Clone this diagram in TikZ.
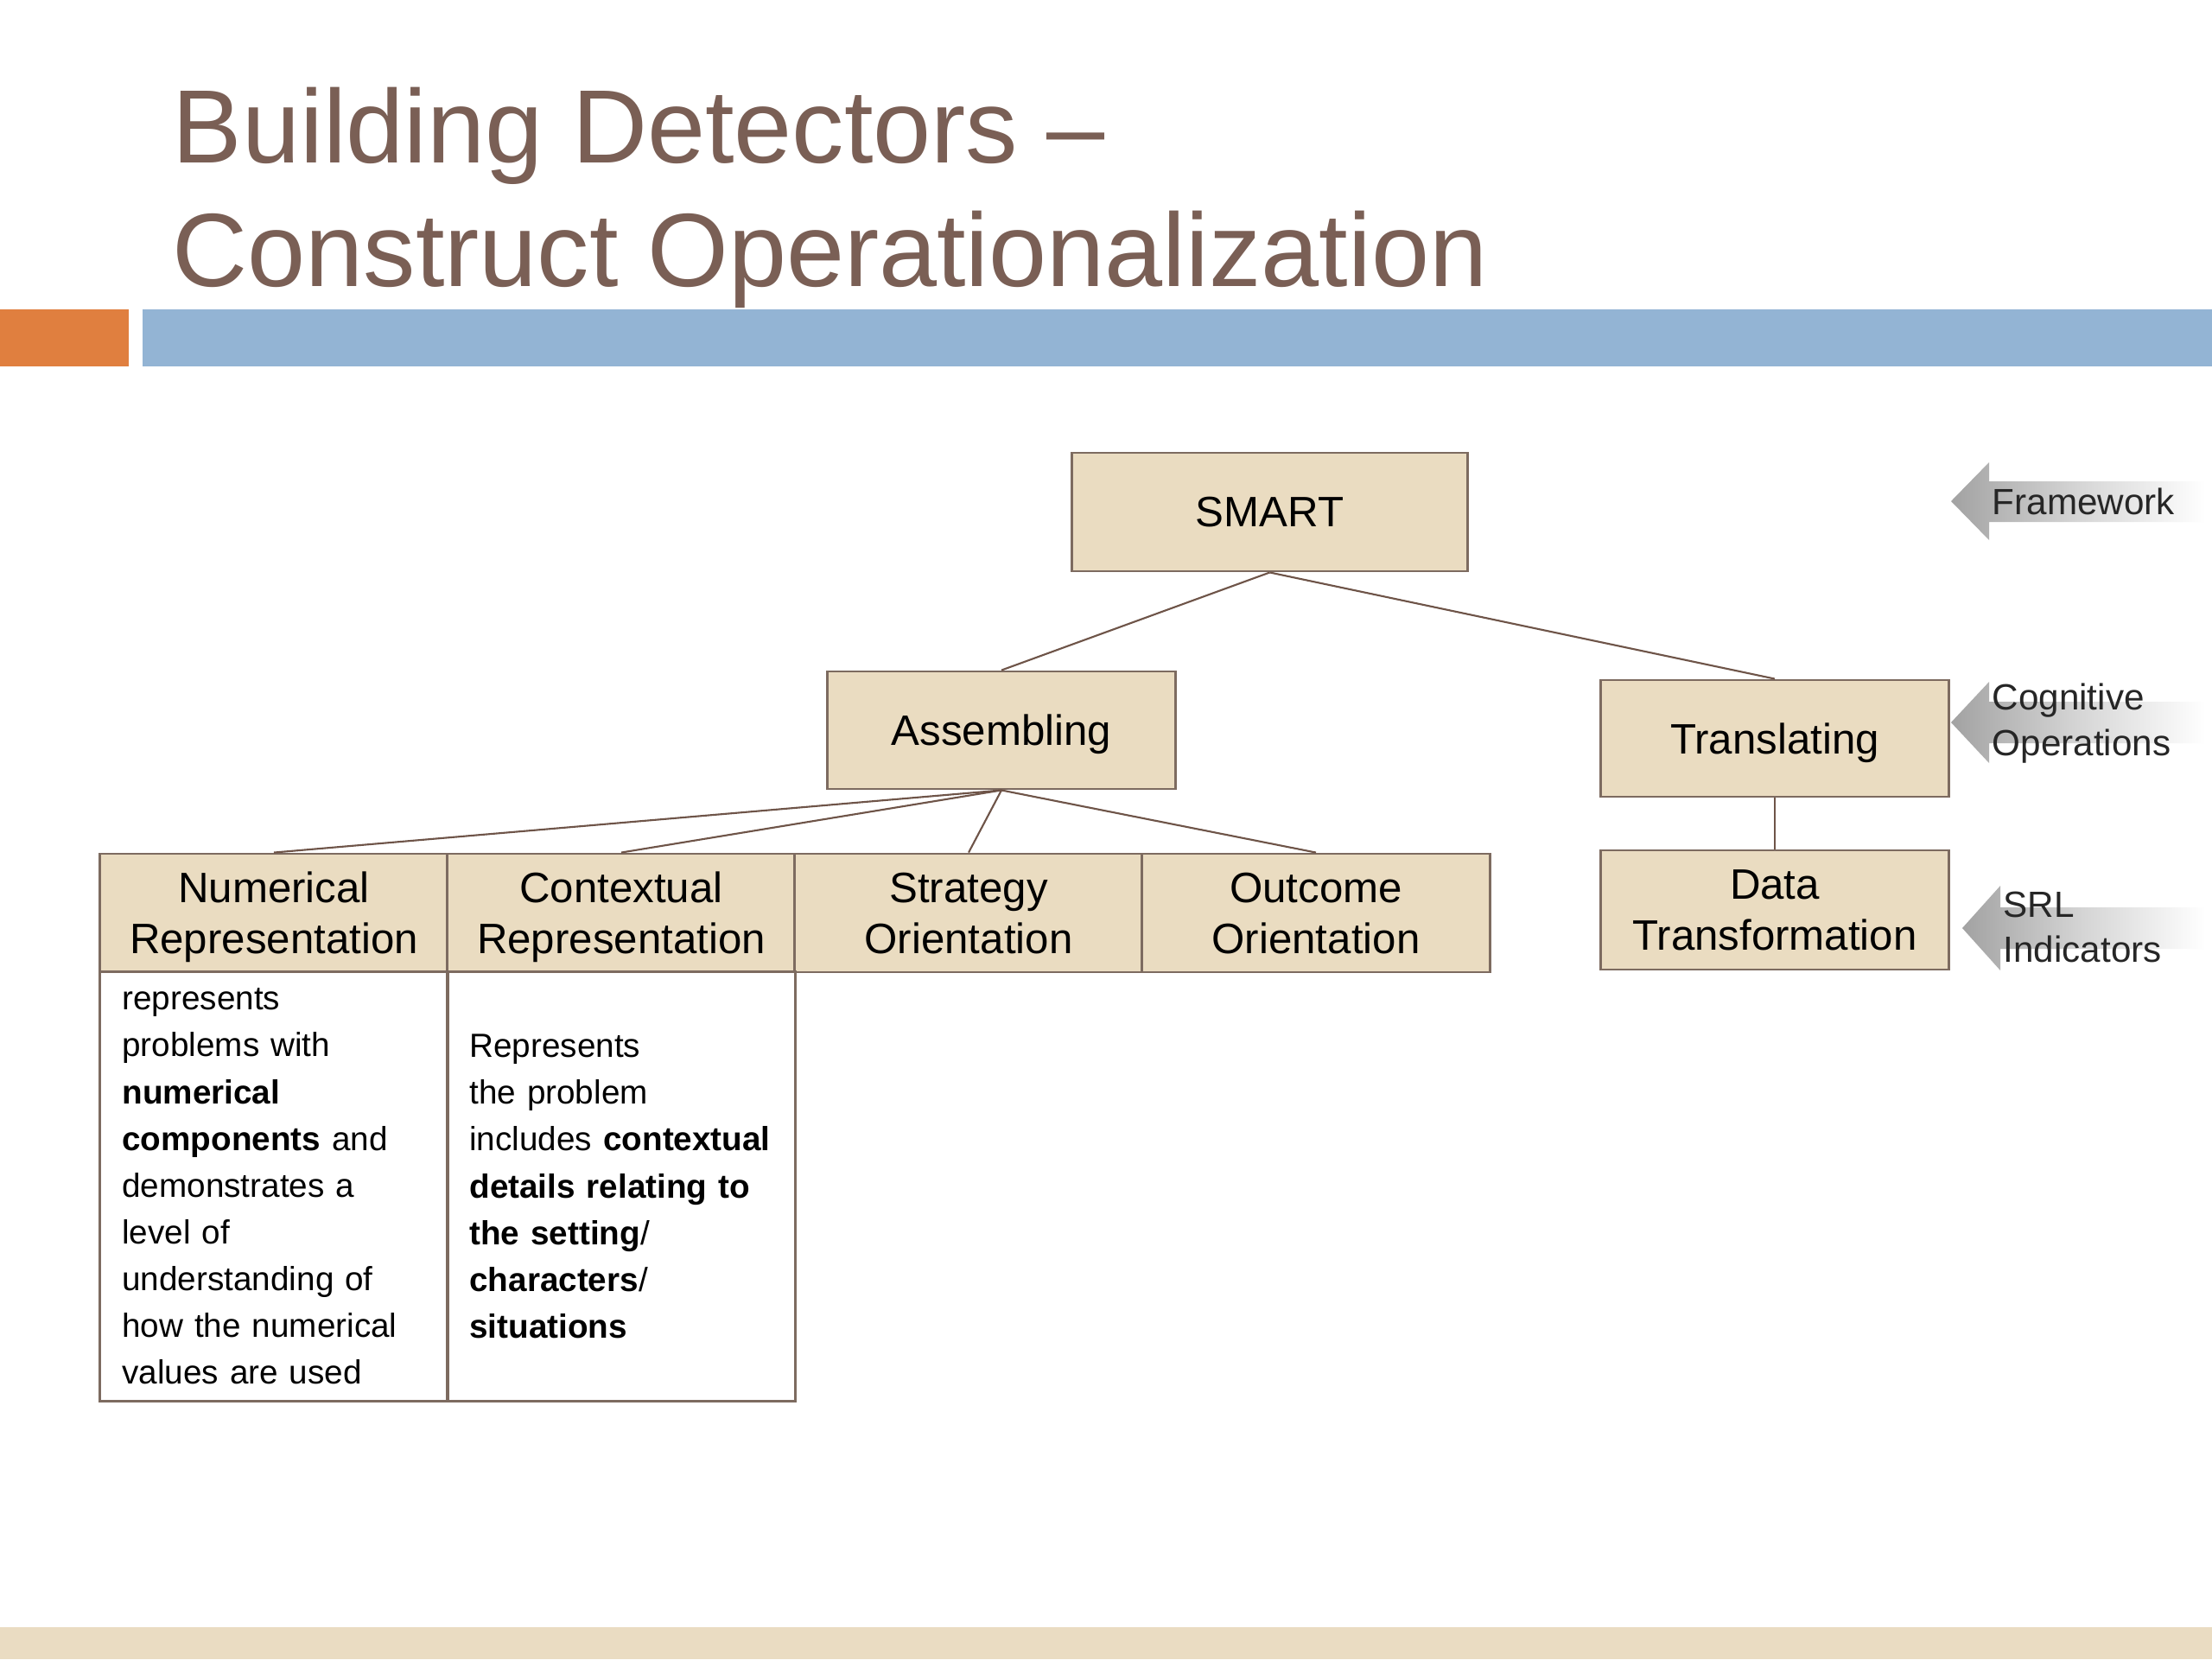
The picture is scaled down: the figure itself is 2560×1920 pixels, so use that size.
\documentclass[tikz,border=0pt]{standalone}
\usepackage{fontspec}
\setmainfont{Liberation Sans}
\definecolor{titlecol}{HTML}{7A5F55}
\definecolor{orangebar}{HTML}{E07F3F}
\definecolor{bluebar}{HTML}{93B4D4}
\definecolor{beige}{HTML}{EADCC2}
\definecolor{boxfill}{HTML}{EADCC1}
\definecolor{boxline}{HTML}{7D6B60}
\definecolor{linkcol}{HTML}{6E5448}
\definecolor{arrowgray}{HTML}{A2A2A2}
\begin{document}
\begin{tikzpicture}[x=0.01cm,y=-0.01cm,
  box/.style={draw=boxline, fill=boxfill, line width=0.8pt, minimum width=4.02cm,
    minimum height=1.37cm, inner sep=0pt, align=center, text depth=0pt,
    font=\fontsize{14pt}{16.8pt}\selectfont},
  desc/.style={draw=boxline, line width=0.8pt, minimum width=4.02cm,
    minimum height=4.96cm, text width=3.51cm, align=left, inner sep=0pt,
    font=\fontsize{11pt}{15.4pt}\selectfont},
  link/.style={draw=linkcol, line width=0.6pt},
  side/.style={anchor=west, inner sep=0pt, align=left, text=black!85,
    font=\fontsize{12pt}{15pt}\selectfont},
  titletext/.style={anchor=base west, inner sep=0pt, text=titlecol,
    font=\fontsize{34.3pt}{41pt}\selectfont}]
\useasboundingbox (0,0) rectangle (2560,1920);
\fill[white] (0,0) rectangle (2560,1920);
% bars
\fill[orangebar] (0,358) rectangle (149,424);
\fill[bluebar] (165,358) rectangle (2560,424);
\fill[beige] (0,1883) rectangle (2560,1920);
% title
\node[titletext] (t1) at (199,188) {Building Detectors –};
\node[titletext] (t2) at (199,331) {Construct Operationalization};
% boxes
\node[box, minimum width=4.57cm] (smart) at (1469.5,592.5) {SMART};
\node[box, minimum height=1.36cm] (asm) at (1159,845) {Assembling};
\node[box, minimum height=1.35cm] (tr) at (2054,854.5) {Translating};
\node[box] (num) at (317,1056.5) {Numerical\\Representation};
\node[box] (ctx) at (719,1056.5) {Contextual\\Representation};
\node[box] (str) at (1121,1056.5) {Strategy\\Orientation};
\node[box] (out) at (1523,1056.5) {Outcome\\Orientation};
\node[box, minimum height=1.38cm] (data) at (2054,1053) {Data\\Transformation};
% descriptions
\node[desc] (numd) at (317,1373) {represents\\problems with\\\textbf{numerical}\\\textbf{components} and\\demonstrates a\\level of\\understanding of\\how the numerical\\values are used};
\node[desc] (ctxd) at (719,1373) {Represents\\the problem\\includes \textbf{contextual}\\\textbf{details relating to}\\\textbf{the setting}/\\\textbf{characters}/\\\textbf{situations}};
% connectors
\draw[link] (smart.south) -- (asm.north);
\draw[link] (smart.south) -- (tr.north);
\draw[link] (asm.south) -- (num.north);
\draw[link] (asm.south) -- (ctx.north);
\draw[link] (asm.south) -- (str.north);
\draw[link] (asm.south) -- (out.north);
\draw[link] (tr.south) -- (data.north);
% side arrows
\shade[left color=arrowgray, right color=white, middle color=arrowgray!45]
  (2258,580) -- (2302,535) -- (2302,557) -- (2552,557) -- (2552,604)
  -- (2302,604) -- (2302,625) -- cycle;
\shade[left color=arrowgray, right color=white, middle color=arrowgray!45]
  (2258,836) -- (2302,789) -- (2302,812) -- (2552,812) -- (2552,860)
  -- (2302,860) -- (2302,883) -- cycle;
\shade[left color=arrowgray, right color=white, middle color=arrowgray!45]
  (2271,1074) -- (2315,1025) -- (2315,1050) -- (2552,1050) -- (2552,1098)
  -- (2315,1098) -- (2315,1123) -- cycle;
\node[side] (fw) at (2305,580) {Framework};
\node[side] (co) at (2305,837) {Cognitive\\Operations};
\node[side] (srl) at (2318,1073) {SRL\\Indicators};
\end{tikzpicture}
\end{document}
